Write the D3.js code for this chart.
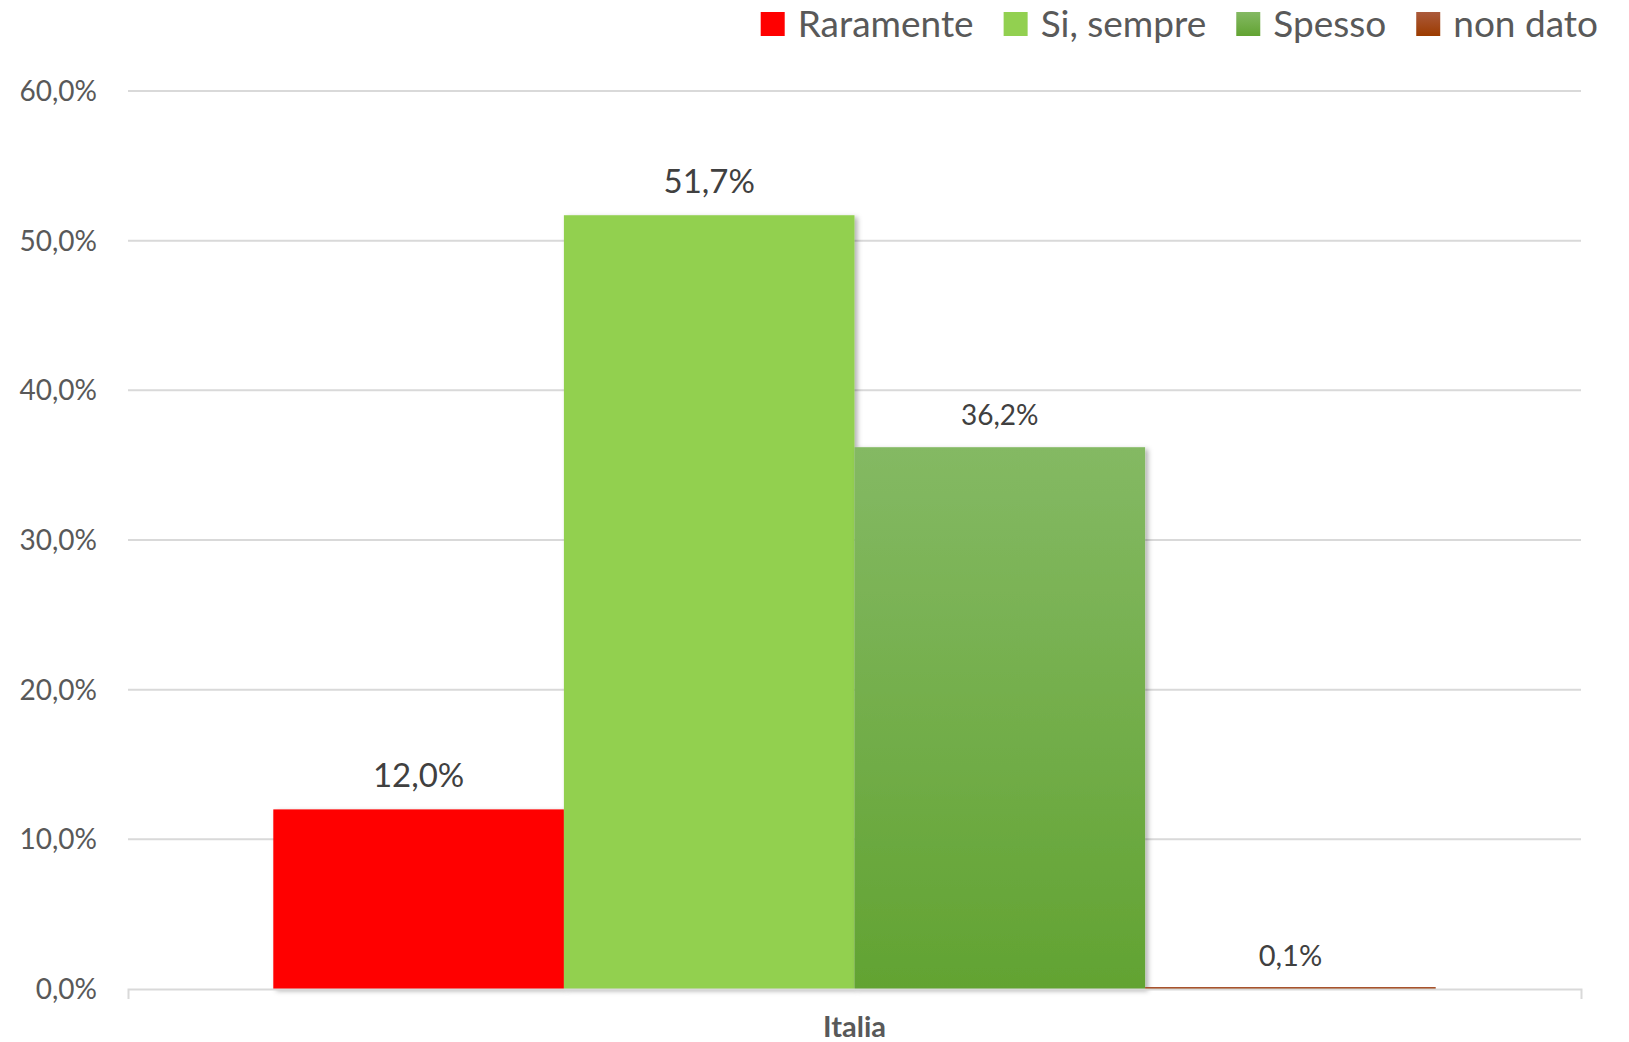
<!DOCTYPE html>
<html>
<head>
<meta charset="utf-8">
<script src="https://cdn.jsdelivr.net/npm/d3@7"></script>
<style>
  body { margin: 0; background: #fff; }
  svg { display: block; font-family: Lato, "Open Sans", sans-serif; }
</style>
</head>
<body>
<div id="chart"></div>
<script>
// data
var categories = ["Italia"];
var series = ["Raramente", "Si, sempre", "Spesso", "non dato"];
var values = [12.0, 51.7, 36.2, 0.1];
var yTicks = [0, 10, 20, 30, 40, 50, 60];

var width = 1629, height = 1042;
var margin = { top: 91, right: 48, bottom: 53, left: 128 };
var fmt = function (v) { return d3.format(".1f")(v).replace(".", ",") + "%"; };

// colours / label sizes per series (style, kept apart from the values)
var fills = ["#ff0000", "#92d050", "url(#gSpesso)", "url(#gNonDato)"];
var labelSize = [33, 33, 28, 29];

var svg = d3.select("#chart").append("svg")
    .attr("width", width)
    .attr("height", height);

var defs = svg.append("defs");
var g1 = defs.append("linearGradient").attr("id", "gSpesso")
    .attr("x1", 0).attr("y1", 0).attr("x2", 0).attr("y2", 1);
g1.append("stop").attr("offset", "0%").attr("stop-color", "#84b963");
g1.append("stop").attr("offset", "100%").attr("stop-color", "#62a332");
var g2 = defs.append("linearGradient").attr("id", "gNonDato")
    .attr("x1", 0).attr("y1", 0).attr("x2", 0).attr("y2", 1);
g2.append("stop").attr("offset", "0%").attr("stop-color", "#ab5a3c");
g2.append("stop").attr("offset", "100%").attr("stop-color", "#9c3b00");
defs.append("filter").attr("id", "shadow")
    .attr("x", "-10%").attr("y", "-10%").attr("width", "130%").attr("height", "130%")
    .append("feDropShadow")
    .attr("dx", 3).attr("dy", 2).attr("stdDeviation", 2.5)
    .attr("flood-color", "#000").attr("flood-opacity", 0.3);

var y = d3.scaleLinear().domain([0, 60]).range([989, margin.top]);

var x0 = d3.scaleBand().domain(categories).range([margin.left, width - margin.right]);
var x1 = d3.scaleBand().domain(series).range([0, x0.bandwidth()]).paddingInner(0).paddingOuter(0.5);

// gridlines
svg.append("g")
    .selectAll("line")
    .data(yTicks.filter(function (d) { return d > 0; }))
    .enter().append("line")
    .attr("x1", margin.left).attr("x2", width - margin.right)
    .attr("y1", function (d) { return y(d); })
    .attr("y2", function (d) { return y(d); })
    .attr("stroke", "#d9d9d9")
    .attr("stroke-width", 2);

// y labels
svg.append("g")
    .selectAll("text")
    .data(yTicks)
    .enter().append("text")
    .attr("x", 97)
    .attr("y", function (d) { return y(d); })
    .attr("dy", "0.36em")
    .attr("text-anchor", "end")
    .attr("font-size", 28)
    .attr("fill", "#595959")
    .text(fmt);

// bars
var grp = svg.append("g")
    .selectAll("g")
    .data(categories)
    .enter().append("g")
    .attr("transform", function (d) { return "translate(" + x0(d) + ",0)"; });

var rows = series.map(function (s, i) { return { key: s, value: values[i], i: i }; });

grp.selectAll("rect")
    .data(rows)
    .enter().append("rect")
    .attr("x", function (d) { return x1(d.key); })
    .attr("width", x1.bandwidth())
    .attr("y", function (d) { return Math.min(y(d.value), y(0) - 2); })
    .attr("height", function (d) { return Math.max(y(0) - y(d.value), 2); })
    .attr("fill", function (d) { return fills[d.i]; })
    .attr("filter", function (d) { return d.value > 1 ? "url(#shadow)" : null; });

grp.selectAll("text.lbl")
    .data(rows)
    .enter().append("text")
    .attr("class", "lbl")
    .attr("x", function (d) { return x1(d.key) + x1.bandwidth() / 2; })
    .attr("y", function (d) { return y(d.value) - 22; })
    .attr("text-anchor", "middle")
    .attr("font-size", function (d) { return labelSize[d.i]; })
    .attr("fill", "#404040")
    .text(function (d) { return fmt(d.value); });

// x axis
var xAxis = svg.append("g")
    .attr("transform", "translate(0," + y(0) + ")")
    .call(d3.axisBottom(x0).tickSize(0).tickSizeOuter(10));
xAxis.select(".domain").attr("stroke", "#d9d9d9").attr("stroke-width", 2);
xAxis.selectAll("text")
    .attr("font-family", "Lato, sans-serif")
    .attr("font-size", 29)
    .attr("font-weight", "bold")
    .attr("fill", "#595959")
    .attr("dy", 0)
    .attr("y", 48);

// legend (right aligned)
var leg = svg.append("g");
var items = leg.selectAll("g")
    .data(series)
    .enter().append("g");
items.append("rect")
    .attr("width", 24).attr("height", 24)
    .attr("y", 12)
    .attr("fill", function (d, i) { return fills[i]; });
items.append("text")
    .attr("x", 37)
    .attr("y", 37)
    .attr("font-size", 37)
    .attr("fill", "#595959")
    .text(function (d) { return d; });
var cx = 0;
items.each(function () {
    var w = d3.select(this).select("text").node().getComputedTextLength();
    d3.select(this).attr("transform", "translate(" + cx + ",0)");
    cx += 37 + w + 30;
});
leg.attr("transform", "translate(" + (1598 - (cx - 30)) + ",0)");
</script>
</body>
</html>
